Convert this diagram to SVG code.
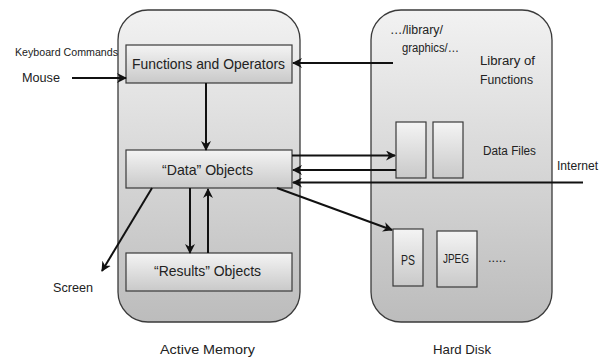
<svg xmlns="http://www.w3.org/2000/svg" width="615" height="357" viewBox="0 0 615 357">
  <defs>
    <linearGradient id="gContainer" x1="0" y1="0" x2="0" y2="1">
      <stop offset="0" stop-color="#f2f2f2"/>
      <stop offset="1" stop-color="#bcbcbc"/>
    </linearGradient>
    <linearGradient id="gBox" x1="0" y1="0" x2="0" y2="1">
      <stop offset="0" stop-color="#f4f4f4"/>
      <stop offset="1" stop-color="#c9c9c9"/>
    </linearGradient>
    <marker id="arrow" viewBox="0 0 10 10" refX="9" refY="5" markerWidth="5" markerHeight="5" orient="auto" markerUnits="strokeWidth">
      <path d="M0,0 L10,5 L0,10 L3,5 z" fill="#111"/>
    </marker>
  </defs>
  <style>
    .container { fill: url(#gContainer); stroke: #3a3a3a; stroke-width: 1.3; }
    .box { fill: url(#gBox); stroke: #3a3a3a; stroke-width: 1.2; }
    .conn { stroke: #111; stroke-width: 2; fill: none; }
    .arr { marker-end: url(#arrow); }
    text { font-family: "Liberation Sans", Arial, sans-serif; fill: #222; }
    .lbl { font-size: 15px; }
    .sm { font-size: 12px; }
    .md { font-size: 13px; }
  </style>

  <rect width="615" height="357" fill="#ffffff"/>

  <!-- memory and disk areas -->
  <g id="active-memory">
    <rect class="container" x="118" y="10" width="182" height="312" rx="30" ry="30"/>
    <text class="md" x="160" y="354" textLength="95" lengthAdjust="spacingAndGlyphs">Active Memory</text>
  </g>
  <g id="hard-disk">
    <rect class="container" x="371" y="10" width="181" height="312" rx="30" ry="30"/>
    <text class="md" x="433" y="354" textLength="58" lengthAdjust="spacingAndGlyphs">Hard Disk</text>
  </g>

  <!-- objects in active memory -->
  <g id="functions-operators">
    <rect class="box" x="126" y="45" width="166" height="38"/>
    <text class="lbl" x="132" y="69" textLength="153" lengthAdjust="spacingAndGlyphs">Functions and Operators</text>
  </g>
  <g id="data-objects">
    <rect class="box" x="126" y="150" width="166" height="38"/>
    <text class="lbl" x="162" y="175" textLength="91" lengthAdjust="spacingAndGlyphs">“Data” Objects</text>
  </g>
  <g id="results-objects">
    <rect class="box" x="126" y="253" width="166" height="38"/>
    <text class="lbl" x="154" y="276" textLength="107" lengthAdjust="spacingAndGlyphs">“Results” Objects</text>
  </g>

  <!-- items on disk -->
  <g id="library">
    <text class="sm" x="390" y="34" textLength="53" lengthAdjust="spacingAndGlyphs">…/library/</text>
    <text class="sm" x="402" y="52" textLength="57" lengthAdjust="spacingAndGlyphs">graphics/…</text>
    <text class="sm" x="480" y="65" textLength="55" lengthAdjust="spacingAndGlyphs">Library of</text>
    <text class="sm" x="480" y="84" textLength="53" lengthAdjust="spacingAndGlyphs">Functions</text>
  </g>
  <g id="data-files">
    <rect class="box" x="396" y="122" width="30" height="56"/>
    <rect class="box" x="433" y="122" width="30" height="56"/>
    <text class="sm" x="483" y="155" textLength="53" lengthAdjust="spacingAndGlyphs">Data Files</text>
  </g>
  <g id="ps-file">
    <rect class="box" x="393" y="229" width="30" height="57"/>
    <text class="lbl" x="401" y="265" textLength="14" lengthAdjust="spacingAndGlyphs">PS</text>
  </g>
  <g id="jpeg-file">
    <rect class="box" x="437" y="231" width="40" height="56"/>
    <text class="sm" x="443" y="263" textLength="26" lengthAdjust="spacingAndGlyphs">JPEG</text>
  </g>
  <g id="more-files">
    <text class="sm" x="488" y="262" textLength="18" lengthAdjust="spacingAndGlyphs">.....</text>
  </g>

  <!-- external sources and sinks -->
  <g id="keyboard">
    <text x="15" y="56" font-size="11" textLength="103" lengthAdjust="spacingAndGlyphs">Keyboard Commands</text>
  </g>
  <g id="mouse">
    <text class="md" x="22" y="82" textLength="38" lengthAdjust="spacingAndGlyphs">Mouse</text>
  </g>
  <g id="screen">
    <text class="md" x="53" y="292" textLength="40" lengthAdjust="spacingAndGlyphs">Screen</text>
  </g>
  <g id="internet">
    <text class="md" x="557" y="170" textLength="41" lengthAdjust="spacingAndGlyphs">Internet</text>
  </g>

  <!-- connectors -->
  <g id="connectors">
    <line class="conn arr" x1="72" y1="78" x2="126" y2="78"/>
    <line class="conn arr" x1="393" y1="63" x2="293" y2="63"/>
    <line class="conn arr" x1="206" y1="83" x2="206" y2="150"/>
    <line class="conn arr" x1="292" y1="155.5" x2="395" y2="155.5"/>
    <line class="conn arr" x1="396" y1="170" x2="293" y2="170"/>
    <line class="conn arr" x1="583" y1="182.5" x2="293" y2="182.5"/>
    <line class="conn arr" x1="190" y1="188" x2="190" y2="253"/>
    <line class="conn arr" x1="208" y1="253" x2="208" y2="189"/>
    <line class="conn arr" x1="152" y1="188" x2="102" y2="271"/>
    <line class="conn arr" x1="277" y1="188" x2="392" y2="230"/>
  </g>
</svg>
